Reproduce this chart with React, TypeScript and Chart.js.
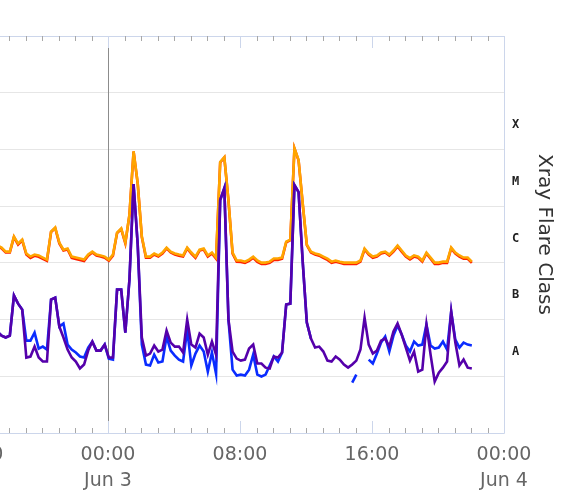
import React, { useEffect, useRef } from 'react';
import { Chart, registerables } from 'chart.js';

Chart.register(...registerables);

// Hours relative to 00:00 UTC Jun 3
const START_HOUR = -6.7;
const STEP_HOURS = 0.25;
const X_MIN = -8;
const X_MAX = 24;

const tickHours = [-8, 0, 8, 16, 24];
const tickLabels: (string | string[])[] = [['16:00'], ['00:00', 'Jun 3'], ['08:00'], ['16:00'], ['00:00', 'Jun 4']];

const decadeValues = [1e-9, 1e-8, 1e-7, 1e-6, 1e-5, 1e-4, 1e-3, 1e-2];
const classLabels = ['A', 'B', 'C', 'M', 'X'];
const classLabelAt = [2.7e-8, 2.7e-7, 2.7e-6, 2.7e-5, 2.7e-4];

// Long channel (0.1-0.8 nm), W/m^2
const orangeFlux = [
  2.02e-6, 1.86e-6, 1.58e-6, 1.58e-6, 2.91e-6, 2.19e-6, 2.57e-6, 1.46e-6, 1.29e-6, 1.40e-6,
  1.35e-6, 1.24e-6, 1.14e-6, 3.56e-6, 4.19e-6, 2.28e-6, 1.71e-6, 1.79e-6, 1.29e-6, 1.24e-6,
  1.19e-6, 1.14e-6, 1.40e-6, 1.58e-6, 1.40e-6, 1.35e-6, 1.29e-6, 1.14e-6, 1.40e-6, 3.42e-6,
  4.03e-6, 2.28e-6, 7.1e-6, 9.3e-5, 2.55e-5, 2.91e-6, 1.29e-6, 1.29e-6, 1.46e-6, 1.35e-6,
  1.52e-6, 1.86e-6, 1.58e-6, 1.46e-6, 1.40e-6, 1.35e-6, 1.86e-6, 1.52e-6, 1.29e-6, 1.71e-6,
  1.79e-6, 1.35e-6, 1.52e-6, 1.24e-6, 6.0e-5, 7.3e-5, 1.28e-5, 1.52e-6, 1.10e-6, 1.10e-6,
  1.05e-6, 1.14e-6, 1.29e-6, 1.10e-6, 1.01e-6, 1.01e-6, 1.05e-6, 1.19e-6, 1.19e-6, 1.24e-6,
  2.37e-6, 2.57e-6, 1.05e-4, 6.5e-5, 1.13e-5, 2.10e-6, 1.58e-6, 1.46e-6, 1.40e-6, 1.29e-6,
  1.19e-6, 1.05e-6, 1.10e-6, 1.05e-6, 1.01e-6, 1.01e-6, 1.01e-6, 1.01e-6, 1.10e-6, 1.79e-6,
  1.46e-6, 1.29e-6, 1.35e-6, 1.52e-6, 1.58e-6, 1.40e-6, 1.65e-6, 2.02e-6, 1.65e-6, 1.35e-6,
  1.21e-6, 1.35e-6, 1.29e-6, 1.10e-6, 1.52e-6, 1.24e-6, 1.01e-6, 1.01e-6, 1.05e-6, 1.05e-6,
  1.86e-6, 1.52e-6, 1.35e-6, 1.24e-6, 1.24e-6, 1.05e-6,
];

const redFlux = [
  1.95e-6, 1.80e-6, 1.52e-6, 1.52e-6, 2.85e-6, 2.10e-6, 2.50e-6, 1.40e-6, 1.22e-6, 1.33e-6,
  1.28e-6, 1.18e-6, 1.09e-6, 3.50e-6, 4.10e-6, 2.20e-6, 1.65e-6, 1.72e-6, 1.22e-6, 1.17e-6,
  1.12e-6, 1.08e-6, 1.34e-6, 1.52e-6, 1.34e-6, 1.29e-6, 1.23e-6, 1.09e-6, 1.34e-6, 3.35e-6,
  3.95e-6, 2.20e-6, 7.0e-6, 9.2e-5, 2.5e-5, 2.85e-6, 1.23e-6, 1.23e-6, 1.40e-6, 1.29e-6,
  1.46e-6, 1.80e-6, 1.52e-6, 1.40e-6, 1.34e-6, 1.29e-6, 1.80e-6, 1.46e-6, 1.23e-6, 1.65e-6,
  1.72e-6, 1.29e-6, 1.46e-6, 1.18e-6, 5.9e-5, 7.2e-5, 1.25e-5, 1.46e-6, 1.05e-6, 1.04e-6,
  1.00e-6, 1.08e-6, 1.23e-6, 1.04e-6, 0.96e-6, 0.96e-6, 1.00e-6, 1.13e-6, 1.13e-6, 1.18e-6,
  2.30e-6, 2.50e-6, 1.04e-4, 6.4e-5, 1.10e-5, 2.05e-6, 1.52e-6, 1.40e-6, 1.34e-6, 1.23e-6,
  1.13e-6, 1.00e-6, 1.05e-6, 1.00e-6, 0.96e-6, 0.96e-6, 0.96e-6, 0.96e-6, 1.05e-6, 1.72e-6,
  1.40e-6, 1.23e-6, 1.29e-6, 1.46e-6, 1.52e-6, 1.34e-6, 1.58e-6, 1.95e-6, 1.58e-6, 1.29e-6,
  1.15e-6, 1.29e-6, 1.23e-6, 1.05e-6, 1.46e-6, 1.18e-6, 0.96e-6, 0.96e-6, 1.00e-6, 1.00e-6,
  1.80e-6, 1.46e-6, 1.29e-6, 1.18e-6, 1.18e-6, 1.00e-6,
];

// Short channel (0.05-0.4 nm), W/m^2
const purpleFlux = [
  6.14e-8, 5.22e-8, 4.82e-8, 5.22e-8, 2.65e-7, 1.91e-7, 1.50e-7, 2.14e-8, 2.23e-8, 3.34e-8,
  2.14e-8, 1.82e-8, 1.82e-8, 2.25e-7, 2.44e-7, 7.53e-8, 4.82e-8, 2.96e-8, 2.14e-8, 1.82e-8,
  1.37e-8, 1.61e-8, 2.84e-8, 4.09e-8, 2.84e-8, 2.84e-8, 3.62e-8, 2.14e-8, 2.14e-8, 3.38e-7,
  3.38e-7, 5.9e-8, 5.08e-7, 2.44e-5, 2.1e-6, 4.82e-8, 2.32e-8, 2.51e-8, 3.48e-8, 2.73e-8,
  2.96e-8, 6.4e-8, 3.93e-8, 3.34e-8, 3.34e-8, 2.62e-8, 1.0e-7, 3.62e-8, 3.21e-8, 5.66e-8,
  4.82e-8, 2.41e-8, 4.09e-8, 2.41e-8, 1.28e-5, 2.08e-5, 1.0e-7, 2.73e-8, 2.05e-8, 1.89e-8,
  1.97e-8, 3.08e-8, 3.62e-8, 1.68e-8, 1.68e-8, 1.42e-8, 1.37e-8, 2.23e-8, 2.14e-8, 2.62e-8,
  1.84e-7, 1.91e-7, 2.35e-5, 1.77e-5, 1.05e-6, 8.85e-8, 4.62e-8, 3.21e-8, 3.34e-8, 2.73e-8,
  1.89e-8, 1.82e-8, 2.23e-8, 1.97e-8, 1.61e-8, 1.42e-8, 1.61e-8, 1.89e-8, 2.96e-8, 1.08e-7,
  3.62e-8, 2.51e-8, 2.84e-8, 4.26e-8, 4.62e-8, 3.34e-8, 6.14e-8, 8.5e-8, 5.44e-8, 3.21e-8,
  1.89e-8, 2.73e-8, 1.21e-8, 1.31e-8, 8.16e-8, 2.41e-8, 8.07e-9, 1.16e-8, 1.42e-8, 1.82e-8,
  1.38e-7, 3.93e-8, 1.55e-8, 1.97e-8, 1.42e-8, 1.37e-8,
];

const blueFlux = [
  6.14e-8, 5.22e-8, 4.82e-8, 5.22e-8, 2.65e-7, 1.91e-7, 1.50e-7, 4.26e-8, 4.26e-8, 5.9e-8,
  3.08e-8, 3.34e-8, 2.96e-8, 2.25e-7, 2.44e-7, 7.53e-8, 8.5e-8, 3.62e-8, 2.96e-8, 2.62e-8,
  2.23e-8, 2.14e-8, 3.21e-8, 4.09e-8, 2.84e-8, 2.84e-8, 3.62e-8, 2.05e-8, 1.97e-8, 3.38e-7,
  3.38e-7, 5.9e-8, 5.08e-7, 2.44e-5, 2.1e-6, 3.62e-8, 1.61e-8, 1.55e-8, 2.41e-8, 1.75e-8,
  1.82e-8, 5.01e-8, 2.84e-8, 2.32e-8, 1.97e-8, 1.82e-8, 6.67e-8, 1.55e-8, 2.51e-8, 3.48e-8,
  2.73e-8, 1.21e-8, 2.62e-8, 1.1e-8, 1.28e-5, 2.08e-5, 1.0e-7, 1.31e-8, 1.03e-8, 1.07e-8,
  1.03e-8, 1.31e-8, 2.41e-8, 1.07e-8, 9.9e-9, 1.07e-8, 1.55e-8, 2.23e-8, 1.82e-8, 2.62e-8,
  1.84e-7, 1.91e-7, 2.35e-5, 1.77e-5, 1.05e-6, 8.85e-8, 4.62e-8, null, null, null,
  null, null, null, null, null, null, 7.74e-9, 1.07e-8, null, null,
  1.97e-8, 1.68e-8, 2.51e-8, 3.93e-8, 5.01e-8, 2.73e-8, 5.22e-8, 7.84e-8, 5.44e-8, 3.48e-8,
  2.73e-8, 4.09e-8, 3.48e-8, 3.62e-8, 8.16e-8, 3.48e-8, 3.08e-8, 3.21e-8, 4.09e-8, 2.96e-8,
  1.38e-7, 4.44e-8, 3.21e-8, 3.93e-8, 3.62e-8, 3.48e-8,
];

const hours = orangeFlux.map((_, i) => START_HOUR + i * STEP_HOURS);

const toPoints = (arr: (number | null)[]) => arr.map((v, i) => ({ x: hours[i], y: v }));

const framePlugin = {
  id: 'frame',
  beforeDatasetsDraw(chart: any) {
    const { ctx, chartArea: a, scales } = chart;
    const xs = scales.x;
    ctx.save();
    ctx.lineWidth = 1;
    // day boundary line
    const dx = Math.round(xs.getPixelForValue(0)) + 0.5;
    ctx.strokeStyle = '#8c8c8c';
    ctx.beginPath();
    ctx.moveTo(dx, a.top + 12);
    ctx.lineTo(dx, a.bottom - 12);
    ctx.stroke();
    // frame
    ctx.strokeStyle = '#ccd6eb';
    ctx.beginPath();
    ctx.moveTo(a.left, a.top + 0.5);
    ctx.lineTo(a.right + 0.5, a.top + 0.5);
    ctx.lineTo(a.right + 0.5, a.bottom + 0.5);
    ctx.lineTo(a.left, a.bottom + 0.5);
    ctx.stroke();
    // hourly ticks
    for (let h = X_MIN; h <= X_MAX; h++) {
      const px = Math.round(xs.getPixelForValue(h)) + 0.5;
      const major = h % 8 === 0;
      const len = major ? 12 : 5;
      ctx.strokeStyle = major ? '#ccd6eb' : '#a8a8a8';
      ctx.beginPath();
      ctx.moveTo(px, a.top);
      ctx.lineTo(px, a.top + len);
      ctx.moveTo(px, a.bottom);
      ctx.lineTo(px, a.bottom - len);
      ctx.stroke();
    }
    ctx.restore();
  },
};

export default function App() {
  const ref = useRef<HTMLCanvasElement | null>(null);

  useEffect(() => {
    document.body.style.overflow = 'hidden';
    const canvas = ref.current;
    if (!canvas) return;
    const common = { pointRadius: 0, borderWidth: 2.6, tension: 0, spanGaps: false, fill: false };
    const chart = new Chart(canvas, {
      type: 'line',
      data: {
        datasets: [
          { ...common, label: 'Short (secondary)', data: toPoints(purpleFlux), borderColor: '#5500aa' },
          { ...common, label: 'Short (primary)', data: toPoints(blueFlux), borderColor: '#0a2cff' },
          { ...common, label: 'Long (secondary)', data: toPoints(orangeFlux), borderColor: '#ffa500' },
          { ...common, label: 'Long (primary)', data: toPoints(redFlux), borderColor: '#ff2000' },
        ],
      },
      options: {
        responsive: false,
        animation: false,
        events: [],
        devicePixelRatio: 1,
        layout: { padding: { left: 60, top: 36, right: 0, bottom: 0 } },
        plugins: { legend: { display: false }, tooltip: { enabled: false } },
        scales: {
          x: {
            type: 'linear',
            min: X_MIN,
            max: X_MAX,
            border: { display: false },
            grid: { display: false, drawTicks: false },
            afterBuildTicks: (s: any) => {
              s.ticks = tickHours.map((v) => ({ value: v }));
            },
            afterFit: (s: any) => {
              s.height = 69;
            },
            ticks: {
              autoSkip: false,
              maxRotation: 0,
              minRotation: 0,
              padding: 10,
              color: '#666666',
              font: { family: 'DejaVu Sans', size: 19, lineHeight: 1.32 },
              callback: (v: any) => {
                const i = tickHours.indexOf(Number(v));
                return i >= 0 ? tickLabels[i] : '';
              },
            },
          },
          y: {
            type: 'logarithmic',
            position: 'left',
            min: 1e-9,
            max: 1e-2,
            border: { display: false },
            grid: { color: '#e6e6e6', drawTicks: false, lineWidth: 1 },
            ticks: { display: false },
            afterBuildTicks: (s: any) => {
              s.ticks = decadeValues.slice(0, -1).map((v) => ({ value: v }));
            },
            afterFit: (s: any) => {
              s.width = 0;
            },
          },
          y2: {
            type: 'logarithmic',
            position: 'right',
            min: 1e-9,
            max: 1e-2,
            border: { display: false },
            grid: { display: false, drawTicks: false },
            afterBuildTicks: (s: any) => {
              s.ticks = classLabelAt.map((v) => ({ value: v }));
            },
            afterFit: (s: any) => {
              s.width = 63;
            },
            ticks: {
              padding: 8,
              color: '#222222',
              font: { family: 'DejaVu Sans Mono', size: 12, weight: 'bold' },
              callback: (_v: any, i: number) => classLabels[i],
            },
            title: {
              display: true,
              text: 'Xray Flare Class',
              color: '#333333',
              font: { family: 'DejaVu Sans', size: 20 },
              padding: { top: 11, bottom: 0 },
            },
          },
        },
      },
      plugins: [framePlugin],
    } as any);
    return () => chart.destroy();
  }, []);

  return (
    <div style={{ position: 'absolute', left: -84, top: 0, width: 651, height: 502 }}>
      <canvas ref={ref} width={651} height={502} style={{ display: 'block', width: 651, height: 502 }} />
    </div>
  );
}
